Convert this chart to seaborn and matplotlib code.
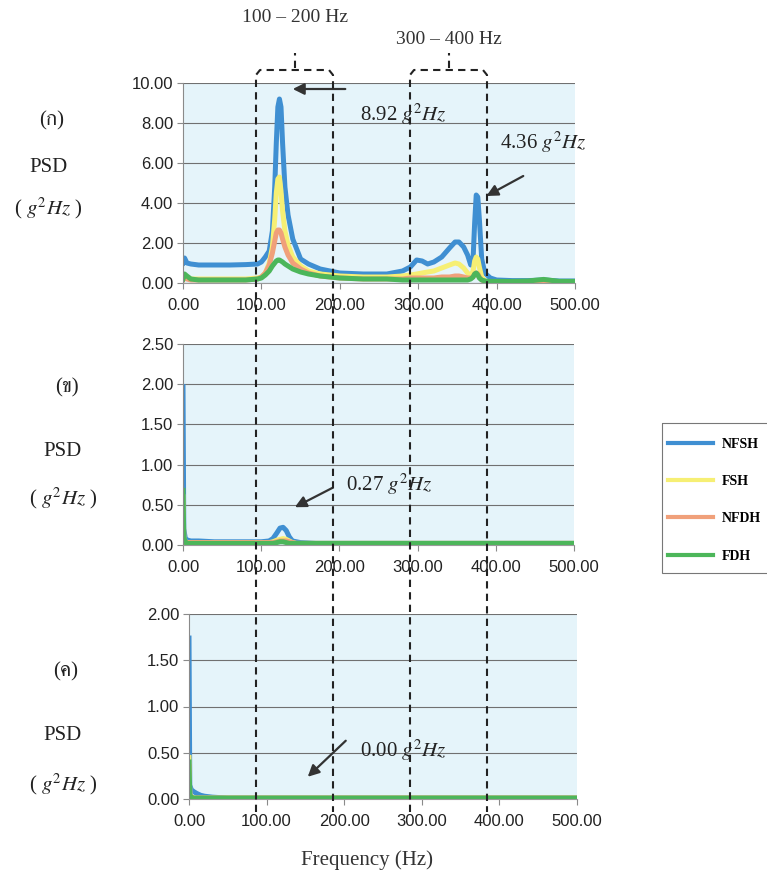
import numpy as np
import pandas as pd
import matplotlib
matplotlib.use("Agg")
import matplotlib.pyplot as plt
from matplotlib.patches import Rectangle
from matplotlib.ticker import FormatStrFormatter
import seaborn as sns

# ---------------- data ----------------
series_names = ["NFSH", "FSH", "NFDH", "FDH"]
series_colors = ["#3f8fd2", "#f6ef74", "#f0a07a", "#4cb65a"]

# panel (ก)
freq_a = [0, 2, 5, 10, 20, 40, 60, 80, 95, 100, 105, 110, 114, 117, 119, 121, 123,
          125, 127, 130, 134, 140, 150, 160, 175, 200, 230, 260, 280, 290, 298, 305,
          312, 320, 330, 340, 347, 352, 358, 363, 367, 370, 372, 374, 376, 378, 381,
          385, 392, 400, 420, 440, 460, 480, 500]
nfsh_a = [1.0, 1.25, 1.0, 0.95, 0.9, 0.9, 0.9, 0.92, 0.95, 1.05, 1.3, 1.6, 2.6, 4.8,
          7.0, 8.8, 9.2, 8.8, 7.0, 4.8, 3.4, 2.2, 1.2, 0.95, 0.7, 0.5, 0.45, 0.45, 0.6,
          0.8, 1.15, 1.1, 0.95, 1.05, 1.3, 1.75, 2.05, 2.05, 1.8, 1.4, 0.9, 1.2, 3.0,
          4.4, 4.3, 3.2, 1.2, 0.5, 0.25, 0.15, 0.12, 0.12, 0.15, 0.1, 0.1]
fsh_a = [0.3, 0.35, 0.25, 0.2, 0.2, 0.2, 0.2, 0.2, 0.25, 0.3, 0.5, 1.0, 1.8, 3.2,
         4.5, 5.2, 5.3, 4.6, 3.6, 2.6, 1.9, 1.3, 0.85, 0.6, 0.45, 0.35, 0.3, 0.3, 0.35,
         0.4, 0.45, 0.5, 0.55, 0.6, 0.75, 0.9, 1.0, 0.95, 0.75, 0.5, 0.35, 0.6, 1.1,
         1.3, 1.2, 0.8, 0.3, 0.1, 0.05, 0.05, 0.05, 0.05, 0.05, 0.05, 0.05]
nfdh_a = [0.15, 0.3, 0.2, 0.15, 0.15, 0.15, 0.15, 0.15, 0.2, 0.3, 0.5, 0.9, 1.5, 2.1,
          2.5, 2.65, 2.65, 2.5, 2.2, 1.8, 1.4, 1.0, 0.7, 0.5, 0.35, 0.25, 0.2, 0.2, 0.2,
          0.25, 0.25, 0.25, 0.25, 0.25, 0.3, 0.3, 0.35, 0.35, 0.3, 0.25, 0.25, 0.3,
          0.45, 0.5, 0.45, 0.3, 0.15, 0.08, 0.05, 0.05, 0.05, 0.05, 0.05, 0.05, 0.05]
fdh_a = [0.2, 0.45, 0.35, 0.2, 0.15, 0.15, 0.15, 0.15, 0.2, 0.25, 0.4, 0.6, 0.85, 1.0,
         1.1, 1.15, 1.15, 1.1, 1.05, 0.95, 0.85, 0.7, 0.55, 0.45, 0.35, 0.25, 0.2, 0.2,
         0.15, 0.15, 0.15, 0.15, 0.15, 0.15, 0.15, 0.15, 0.15, 0.15, 0.15, 0.15, 0.2,
         0.3, 0.45, 0.5, 0.4, 0.25, 0.15, 0.1, 0.08, 0.08, 0.08, 0.1, 0.18, 0.08, 0.08]

# panel (ข)
freq_b = [0, 1, 3, 6, 10, 20, 40, 60, 80, 100, 110, 115, 120, 124, 128, 132, 136,
          140, 145, 150, 170, 200, 250, 300, 350, 400, 450, 500]
nfsh_b = [1.97, 0.2, 0.08, 0.06, 0.05, 0.05, 0.04, 0.04, 0.04, 0.04, 0.05, 0.08, 0.15,
          0.21, 0.22, 0.18, 0.1, 0.05, 0.04, 0.03, 0.02, 0.02, 0.02, 0.02, 0.02, 0.02,
          0.02, 0.02]
fsh_b = [0.6, 0.08, 0.04, 0.03, 0.03, 0.03, 0.03, 0.03, 0.03, 0.03, 0.03, 0.04, 0.06,
         0.07, 0.08, 0.07, 0.05, 0.03, 0.02, 0.02, 0.02, 0.02, 0.02, 0.02, 0.02, 0.02,
         0.02, 0.02]
nfdh_b = [0.5, 0.06, 0.03, 0.03, 0.03, 0.03, 0.03, 0.03, 0.03, 0.03, 0.03, 0.03, 0.04,
          0.05, 0.05, 0.05, 0.04, 0.03, 0.02, 0.02, 0.02, 0.02, 0.02, 0.02, 0.02, 0.02,
          0.02, 0.02]
fdh_b = [0.68, 0.1, 0.03, 0.02, 0.02, 0.02, 0.02, 0.02, 0.02, 0.02, 0.02, 0.02, 0.03,
         0.04, 0.04, 0.03, 0.02, 0.02, 0.02, 0.02, 0.02, 0.02, 0.02, 0.02, 0.02, 0.02,
         0.02, 0.02]

# panel (ค)
freq_c = [0, 1, 3, 6, 10, 15, 20, 30, 50, 100, 150, 200, 250, 300, 350, 400, 450, 500]
nfsh_c = [1.74, 0.15, 0.1, 0.08, 0.06, 0.04, 0.03, 0.02, 0.01, 0.01, 0.01, 0.01, 0.01,
          0.01, 0.01, 0.01, 0.01, 0.01]
fsh_c = [0.45, 0.05, 0.02, 0.01, 0.01, 0.01, 0.01, 0.01, 0.01, 0.01, 0.01, 0.01, 0.01,
         0.01, 0.01, 0.01, 0.01, 0.01]
nfdh_c = [0.35, 0.04, 0.02, 0.01, 0.01, 0.01, 0.01, 0.01, 0.01, 0.01, 0.01, 0.01, 0.01,
          0.01, 0.01, 0.01, 0.01, 0.01]
fdh_c = [0.4, 0.04, 0.02, 0.01, 0.01, 0.01, 0.01, 0.01, 0.01, 0.01, 0.01, 0.01, 0.01,
         0.01, 0.01, 0.01, 0.01, 0.01]

panel_labels = ["(ก)", "(ข)", "(ค)"]
x_ticks = [0, 100, 200, 300, 400, 500]
y_ticks_a = [0, 2, 4, 6, 8, 10]
y_ticks_b = [0, 0.5, 1.0, 1.5, 2.0, 2.5]
y_ticks_c = [0, 0.5, 1.0, 1.5, 2.0]
band_labels = ["100 – 200 Hz", "300 – 400 Hz"]
peak_labels = ["8.92", "4.36", "0.27", "0.00"]

# ---------------- fonts ----------------
plt.rcParams["mathtext.fontset"] = "stix"
serif = ["Liberation Serif", "FreeSerif", "DejaVu Sans"]
sans = ["Liberation Sans", "DejaVu Sans"]


def long_df(freq, vals):
    return pd.DataFrame({
        "freq": np.tile(freq, len(vals)),
        "psd": np.concatenate(vals),
        "series": np.repeat(series_names, len(freq)),
    })


W, H = 767, 881
fig = plt.figure(figsize=(W / 100, H / 100), dpi=100)


def rect(l, t, r, b):
    return [l / W, 1 - b / H, (r - l) / W, (b - t) / H]


ax1 = fig.add_axes(rect(183, 83, 575, 283))
ax2 = fig.add_axes(rect(183, 344, 574, 545))
ax3 = fig.add_axes(rect(189, 614, 577, 799))

panels = [
    (ax1, long_df(freq_a, [nfsh_a, fsh_a, nfdh_a, fdh_a]), y_ticks_a),
    (ax2, long_df(freq_b, [nfsh_b, fsh_b, nfdh_b, fdh_b]), y_ticks_b),
    (ax3, long_df(freq_c, [nfsh_c, fsh_c, nfdh_c, fdh_c]), y_ticks_c),
]

for i, (ax, df, yt) in enumerate(panels):
    sns.lineplot(data=df, x="freq", y="psd", hue="series", hue_order=series_names,
                 palette=series_colors, linewidth=3.6, estimator=None, sort=False,
                 legend=(i == 0), ax=ax)
    ax.set_facecolor("#e5f4fa")
    ax.set_xlim(0, 500)
    ax.set_ylim(yt[0], yt[-1])
    ax.set_xticks(x_ticks)
    ax.set_yticks(yt)
    ax.xaxis.set_major_formatter(FormatStrFormatter("%.2f"))
    ax.yaxis.set_major_formatter(FormatStrFormatter("%.2f"))
    ax.grid(axis="y", color="#707070", linewidth=0.8)
    ax.grid(axis="x", visible=False)
    ax.set_axisbelow(True)
    for s in ["top", "right"]:
        ax.spines[s].set_visible(False)
    ax.spines["left"].set_color("#8a8a8a")
    ax.spines["bottom"].set_color("#9a9a9a")
    ax.tick_params(axis="both", length=4, color="#8a8a8a", labelsize=12,
                   labelcolor="#222222")
    ax.tick_params(axis="x", pad=7)
    ax.tick_params(axis="y", pad=3)
    for lab in ax.get_xticklabels() + ax.get_yticklabels():
        lab.set_family(sans)
    ax.set_xlabel("")
    ax.set_ylabel("")

# legend (frame drawn separately so that it can run past the right edge)
handles, labels = ax1.get_legend_handles_labels()
ax1.get_legend().remove()
for h in handles:
    h.set_linewidth(3.0)
leg = fig.legend(handles, labels, loc="upper left",
                 bbox_to_anchor=(668 / W, 1 - 438 / H), frameon=False,
                 handlelength=3.25, handletextpad=0.65,
                 labelspacing=1.74, borderpad=0, borderaxespad=0,
                 prop={"family": serif, "weight": "bold", "size": 10})

# left labels
label_pos = [((52, 121), (49, 167), (48, 208)),
             ((67, 388), (63, 452), (63, 498)),
             ((66, 672), (63, 735), (63, 784))]
for lab, (p1, p2, p3) in zip(panel_labels, label_pos):
    fig.text(p1[0] / W, 1 - p1[1] / H, lab, family=serif, fontsize=15,
             ha="center", va="center", color="#222222")
    fig.text(p2[0] / W, 1 - p2[1] / H, "PSD", family=serif, fontsize=15,
             ha="center", va="center", color="#222222")
    fig.text(p3[0] / W, 1 - p3[1] / H, r"( $g^2Hz$ )", family=serif, fontsize=15,
             ha="center", va="center", color="#222222")

fig.text(367 / W, 1 - 860 / H, "Frequency (Hz)", family=serif, fontsize=15,
         ha="center", va="center", color="#333333")

# annotations
arrow_kw = dict(arrowstyle="-|>", color="#333333", lw=1.6, mutation_scale=17,
                shrinkA=0, shrinkB=0)
txt_kw = dict(family=serif, fontsize=15, ha="left", va="center", color="#222222")
ax1.annotate("", xy=(140, 9.7), xytext=(207, 9.7), arrowprops=arrow_kw,
             annotation_clip=False)
ax1.text(226, 8.45, peak_labels[0] + r" $g^2Hz$", **txt_kw)
ax1.text(404, 7.05, peak_labels[1] + r" $g^2Hz$", clip_on=False, **txt_kw)
ax1.annotate("", xy=(387, 4.35), xytext=(434, 5.35), arrowprops=arrow_kw,
             annotation_clip=False)
ax2.text(209, 0.75, peak_labels[2] + r" $g^2Hz$", **txt_kw)
ax2.annotate("", xy=(143, 0.47), xytext=(191, 0.71), arrowprops=arrow_kw)
ax3.text(221, 0.53, peak_labels[3] + r" $g^2Hz$", **txt_kw)
ax3.annotate("", xy=(153, 0.24), xytext=(202, 0.63), arrowprops=arrow_kw)

# overlay in pixel space: dashed band brackets and legend frame
ov = fig.add_axes([0, 0, 1, 1], zorder=10)
ov.set_xlim(0, W)
ov.set_ylim(H, 0)
ov.axis("off")
ov.patch.set_alpha(0)
ov.add_patch(Rectangle((662, 423), 110, 150, fill=False, edgecolor="#777777",
                       linewidth=0.8))
dash = dict(color="#222222", lw=1.5, linestyle=(0, (3.5, 2.5)))
for (xl, xr), lab, ty in zip([(256, 333), (410, 487)], band_labels, [18, 40]):
    xm = (xl + xr) / 2
    ov.plot([xl, xl, xl + 4, xr - 4, xr, xr], [812, 75, 70, 70, 75, 812], **dash)
    ov.plot([xm, xm], [68, 53], **dash)
    ov.text(xm, ty, lab, family=serif, fontsize=14, ha="center", va="center",
            color="#333333")

fig.savefig("out.png", dpi=100)
